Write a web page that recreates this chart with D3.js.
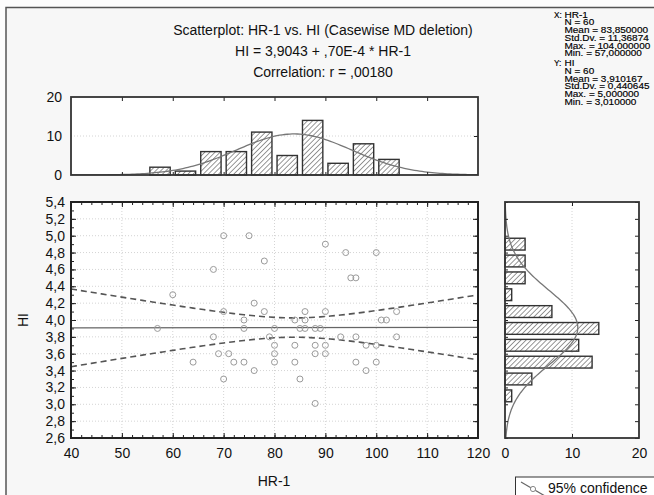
<!DOCTYPE html>
<html>
<head>
<meta charset="utf-8">
<script src="https://cdn.jsdelivr.net/npm/d3@7"></script>
<style>
body { margin: 0; background: #fff; }
svg { display: block; font-family: "Liberation Sans", Arial, sans-serif; }
</style>
</head>
<body>
<svg id="chart" width="654" height="495"></svg>
<script>
// scatter points
var hr = [70,75,68,60,76,70,74,57,74,68, 69,71,64,72,74,70,76,78,90,94,
          100,95,96,78,86,90,84,86,101,102, 104,80,85,86,88,89,79,93,96,104,
          80,84,88,90,98,100,80,88,90,80, 84,96,100,98,85,88];
var hi = [5.0,5.0,4.6,4.3,4.2,4.1,4.0,3.9,3.9,3.8, 3.6,3.6,3.5,3.5,3.5,3.3,3.4,4.7,4.9,4.8,
          4.8,4.5,4.5,4.1,4.1,4.1,4.0,4.0,4.0,4.0, 4.1,3.9,3.9,3.9,3.9,3.9,3.8,3.8,3.8,3.8,
          3.7,3.7,3.7,3.7,3.7,3.7,3.6,3.6,3.6,3.5, 3.5,3.5,3.5,3.4,3.3,3.01];

// histogram of HR-1 (bin lower edges, width 5)
var hrBins = [55,60,65,70,75,80,85,90,95,100];
var hrCounts = [2,1,6,6,11,5,14,3,8,4];
// histogram of HI (bin lower edges, width 0.2)
var hiBins = [3.0,3.2,3.4,3.6,3.8,4.0,4.2,4.4,4.6,4.8];
var hiCounts = [1,4,13,11,14,7,1,3,3,3];

// stats from the chart text
var N = 60;
var meanX = 83.85, sdX = 11.36874;
var meanY = 3.910167, sdY = 0.440645;
var intercept = 3.9043, slope = 0.00007, r = 0.00180;
var tCrit = 2.0017;

var titleLines = ["Scatterplot: HR-1 vs. HI (Casewise MD deletion)",
                  "HI = 3,9043 + ,70E-4 * HR-1",
                  "Correlation: r = ,00180"];
var statsX = ["N = 60", "Mean = 83,850000", "Std.Dv. = 11,36874", "Max. = 104,000000", "Min. = 57,000000"];
var statsY = ["N = 60", "Mean = 3,910167", "Std.Dv. = 0,440645", "Max. = 5,000000", "Min. = 3,010000"];

var xTicks = [40,50,60,70,80,90,100,110,120];
var yTicks = d3.range(26, 55, 2).map(d => d / 10);
var countTicks = [0,10,20];

var loc = d3.formatLocale({decimal: ",", thousands: ".", grouping: [3], currency: ["", ""]});
var fmt1 = loc.format(".1f");

var svg = d3.select("#chart");

// background + frame
svg.append("rect").attr("width", 654).attr("height", 495).attr("fill", "#fdfdfd");
svg.append("rect").attr("x", 6).attr("y", 7.5).attr("width", 700).attr("height", 600)
    .attr("fill", "#f7f7f7").attr("stroke", "#555").attr("stroke-width", 1.5);

var defs = svg.append("defs");
var pat = defs.append("pattern").attr("id", "hatch")
    .attr("patternUnits", "userSpaceOnUse").attr("width", 3.6).attr("height", 3.6)
    .attr("patternTransform", "rotate(45)");
pat.append("rect").attr("width", 3.6).attr("height", 3.6).attr("fill", "#fff");
pat.append("line").attr("x1", 0).attr("y1", 0).attr("x2", 0).attr("y2", 3.6)
    .attr("stroke", "#444").attr("stroke-width", 1.1);

// scales
var x = d3.scaleLinear().domain([40, 120]).range([71, 478]);
var y = d3.scaleLinear().domain([2.6, 5.4]).range([438, 202]);
var hy = d3.scaleLinear().domain([0, 20]).range([175, 97]);
var hx = d3.scaleLinear().domain([0, 20]).range([505, 639]);

function clip(id, x0, y0, w, h) {
    defs.append("clipPath").attr("id", id).append("rect")
        .attr("x", x0).attr("y", y0).attr("width", w).attr("height", h);
}
clip("clipS", 71, 202, 407, 236);
clip("clipT", 71, 97, 407, 78);
clip("clipR", 505, 202, 134, 236);

// titles
svg.selectAll("text.title").data(titleLines).enter().append("text")
    .attr("class", "title")
    .attr("x", 323).attr("y", (d, i) => 35 + i * 21)
    .attr("text-anchor", "middle").attr("font-size", 14).attr("fill", "#111")
    .text(d => d);

// stats block (squat, wide lettering)
function statBlock(label, name, lines, y0) {
    var g = svg.append("g").attr("font-size", 8.2).attr("fill", "#000")
        .attr("stroke", "#000").attr("stroke-width", 0.15);
    g.append("text").attr("transform", "translate(554," + y0 + ")").text(label);
    g.append("text").attr("transform", "translate(564.5," + y0 + ") scale(1.22,1)").text(name);
    lines.forEach(function(t, i) {
        g.append("text").attr("transform", "translate(564.5," + (y0 + (i + 1) * 7.75) + ") scale(1.22,1)").text(t);
    });
}
statBlock("X:", "HR-1", statsX, 17.5);
statBlock("Y:", "HI", statsY, 66);

// ---------- scatter plot ----------
var gs = svg.append("g");
gs.append("rect").attr("x", 71).attr("y", 202).attr("width", 407).attr("height", 236).attr("fill", "#fff");

// grid
gs.selectAll("line.vg").data(xTicks.slice(1, -1)).enter().append("line")
    .attr("x1", d => x(d)).attr("x2", d => x(d)).attr("y1", 202).attr("y2", 438)
    .attr("stroke", "#d4d4d4").attr("stroke-dasharray", "1,2");
gs.selectAll("line.hg").data(yTicks.slice(1, -1)).enter().append("line")
    .attr("y1", d => y(d)).attr("y2", d => y(d)).attr("x1", 71).attr("x2", 478)
    .attr("stroke", "#d4d4d4").attr("stroke-dasharray", "1,2");

// regression line and 95% confidence band
var sRes = sdY * Math.sqrt((1 - r * r) * (N - 1) / (N - 2));
var sxx = (N - 1) * sdX * sdX;
var xs = d3.range(40, 120.01, 1);
function band(sign) {
    return xs.map(function(v) {
        var yhat = intercept + slope * v;
        var hw = tCrit * sRes * Math.sqrt(1 / N + (v - meanX) * (v - meanX) / sxx);
        return [v, yhat + sign * hw];
    });
}
var line = d3.line().x(d => x(d[0])).y(d => y(d[1]));
var gc = gs.append("g").attr("clip-path", "url(#clipS)");
gc.append("path").datum([[40, intercept + slope * 40], [120, intercept + slope * 120]])
    .attr("d", line).attr("fill", "none").attr("stroke", "#666").attr("stroke-width", 1.3);
[1, -1].forEach(function(s) {
    gc.append("path").datum(band(s)).attr("d", line)
        .attr("fill", "none").attr("stroke", "#555").attr("stroke-width", 1.6)
        .attr("stroke-dasharray", "6,4");
});

// points
gc.selectAll("circle").data(hr).enter().append("circle")
    .attr("cx", d => x(d)).attr("cy", (d, i) => y(hi[i])).attr("r", 3)
    .attr("fill", "none").attr("stroke", "#9a9a9a").attr("stroke-width", 1);

// axes
var xMinor = d3.range(40, 121, 2);
var yMinor = d3.range(26, 55, 1).map(d => d / 10);
function inwardAxis(g, axisFn, scale, major, minor, fmt, pad) {
    g.call(axisFn(scale).tickValues(minor).tickSizeInner(-3).tickSizeOuter(0).tickFormat(""));
    var g2 = g.append("g");
    g2.call(axisFn(scale).tickValues(major).tickSizeInner(-5).tickSizeOuter(0)
        .tickPadding(pad).tickFormat(fmt));
    [g, g2].forEach(function(gg) {
        gg.select(".domain").remove();
        gg.selectAll("line").attr("stroke", "#222");
    });
    g2.selectAll("text").attr("font-size", 14).attr("fill", "#111").attr("font-family", null);
    g.attr("font-family", null);
}
inwardAxis(gs.append("g").attr("transform", "translate(0,438)"), d3.axisBottom, x, xTicks, xMinor, d3.format("d"), 10);
inwardAxis(gs.append("g").attr("transform", "translate(0,202)"), d3.axisTop, x, xTicks, xMinor, "", 0);
inwardAxis(gs.append("g").attr("transform", "translate(71,0)"), d3.axisLeft, y, yTicks, yMinor, fmt1, 6);
inwardAxis(gs.append("g").attr("transform", "translate(478,0)"), d3.axisRight, y, yTicks, yTicks, "", 0);
gs.selectAll("g text").filter(function() { return this.textContent === ""; }).remove();

gs.append("rect").attr("x", 71).attr("y", 202).attr("width", 407).attr("height", 236)
    .attr("fill", "none").attr("stroke", "#222").attr("stroke-width", 2);

svg.append("text").attr("x", 274).attr("y", 486).attr("text-anchor", "middle")
    .attr("font-size", 14).attr("fill", "#111").text("HR-1");
svg.append("text").attr("transform", "translate(28,320) rotate(-90)").attr("text-anchor", "middle")
    .attr("font-size", 14).attr("fill", "#111").text("HI");

// ---------- top histogram ----------
var gt = svg.append("g");
gt.append("rect").attr("x", 71).attr("y", 97).attr("width", 407).attr("height", 78).attr("fill", "#fff");
gt.append("line").attr("x1", 71).attr("x2", 478).attr("y1", hy(10)).attr("y2", hy(10))
    .attr("stroke", "#d4d4d4").attr("stroke-dasharray", "1,2");
gt.selectAll("rect.bar").data(hrBins).enter().append("rect").attr("class", "bar")
    .attr("x", d => x(d + 0.5)).attr("width", d => x(d + 4.5) - x(d + 0.5))
    .attr("y", (d, i) => hy(hrCounts[i])).attr("height", (d, i) => hy(0) - hy(hrCounts[i]))
    .attr("fill", "url(#hatch)").attr("stroke", "#333").attr("stroke-width", 1.4);
var normT = d3.range(40, 120.01, 0.5).map(function(v) {
    var z = (v - meanX) / sdX;
    return [v, N * 5 * Math.exp(-z * z / 2) / (sdX * Math.sqrt(2 * Math.PI))];
});
gt.append("path").datum(normT).attr("clip-path", "url(#clipT)")
    .attr("d", d3.line().x(d => x(d[0])).y(d => hy(d[1])))
    .attr("fill", "none").attr("stroke", "#777").attr("stroke-width", 1.3);
var tTop = gt.append("g").attr("transform", "translate(0,97)")
    .call(d3.axisTop(x).tickValues(xTicks.slice(1, -1)).tickSizeInner(-4).tickSizeOuter(0).tickFormat(""));
var tBot = gt.append("g").attr("transform", "translate(0,175)")
    .call(d3.axisBottom(x).tickValues(xTicks.slice(1, -1)).tickSizeInner(-3).tickSizeOuter(0).tickFormat(""));
var tL = gt.append("g").attr("transform", "translate(71,0)")
    .call(d3.axisLeft(hy).tickValues(countTicks).tickSizeInner(0).tickSizeOuter(0).tickPadding(9).tickFormat(d3.format("d")));
var tR = gt.append("g").attr("transform", "translate(478,0)")
    .call(d3.axisRight(hy).tickValues([10]).tickSizeInner(-4).tickSizeOuter(0).tickFormat(""));
[tTop, tBot, tL, tR].forEach(function(g) {
    g.attr("font-family", null);
    g.select(".domain").remove();
    g.selectAll("line").attr("stroke", "#222");
    g.selectAll("text").attr("font-size", 14).attr("fill", "#111");
});
gt.append("rect").attr("x", 71).attr("y", 97).attr("width", 407).attr("height", 78)
    .attr("fill", "none").attr("stroke", "#333").attr("stroke-width", 1.8);

// ---------- right histogram ----------
var gr = svg.append("g");
gr.append("rect").attr("x", 505).attr("y", 202).attr("width", 134).attr("height", 236).attr("fill", "#fff");
gr.append("line").attr("x1", hx(10)).attr("x2", hx(10)).attr("y1", 202).attr("y2", 438)
    .attr("stroke", "#d4d4d4").attr("stroke-dasharray", "1,2");
gr.selectAll("rect.bar").data(hiBins).enter().append("rect").attr("class", "bar")
    .attr("x", hx(0)).attr("width", (d, i) => hx(hiCounts[i]) - hx(0))
    .attr("y", d => y(d + 0.17)).attr("height", d => y(d + 0.03) - y(d + 0.17))
    .attr("fill", "url(#hatch)").attr("stroke", "#333").attr("stroke-width", 1.4);
var normR = d3.range(2.6, 5.401, 0.02).map(function(v) {
    var z = (v - meanY) / sdY;
    return [v, N * 0.2 * Math.exp(-z * z / 2) / (sdY * Math.sqrt(2 * Math.PI))];
});
gr.append("path").datum(normR).attr("clip-path", "url(#clipR)")
    .attr("d", d3.line().x(d => hx(d[1])).y(d => y(d[0])))
    .attr("fill", "none").attr("stroke", "#777").attr("stroke-width", 1.3);
var rB = gr.append("g").attr("transform", "translate(0,438)")
    .call(d3.axisBottom(hx).tickValues(countTicks).tickSizeInner(0).tickSizeOuter(0).tickPadding(10).tickFormat(d3.format("d")));
var rB2 = gr.append("g").attr("transform", "translate(0,438)")
    .call(d3.axisBottom(hx).tickValues([10]).tickSizeInner(-4).tickSizeOuter(0).tickFormat(""));
var rT = gr.append("g").attr("transform", "translate(0,202)")
    .call(d3.axisTop(hx).tickValues([10]).tickSizeInner(-4).tickSizeOuter(0).tickFormat(""));
var rL = gr.append("g").attr("transform", "translate(505,0)")
    .call(d3.axisLeft(y).tickValues(yTicks).tickSizeInner(-3).tickSizeOuter(0).tickFormat(""));
var rR = gr.append("g").attr("transform", "translate(639,0)")
    .call(d3.axisRight(y).tickValues(yTicks).tickSizeInner(-4).tickSizeOuter(0).tickFormat(""));
[rB, rB2, rT, rL, rR].forEach(function(g) {
    g.attr("font-family", null);
    g.select(".domain").remove();
    g.selectAll("line").attr("stroke", "#222");
    g.selectAll("text").attr("font-size", 14).attr("fill", "#111");
});
gr.append("rect").attr("x", 505).attr("y", 202).attr("width", 134).attr("height", 236)
    .attr("fill", "none").attr("stroke", "#333").attr("stroke-width", 1.8);

// ---------- legend ----------
var lg = svg.append("g");
lg.append("rect").attr("x", 515.5).attr("y", 477).attr("width", 200).attr("height", 40)
    .attr("fill", "#fff").attr("stroke", "#333").attr("stroke-width", 1);
lg.append("line").attr("x1", 521).attr("y1", 482).attr("x2", 545).attr("y2", 496)
    .attr("stroke", "#666").attr("stroke-width", 1.2);
lg.append("circle").attr("cx", 533).attr("cy", 489).attr("r", 2.6)
    .attr("fill", "#fff").attr("stroke", "#888");
lg.append("text").attr("x", 548).attr("y", 493).attr("font-size", 14).attr("fill", "#111")
    .text("95% confidence");
</script>
</body>
</html>
